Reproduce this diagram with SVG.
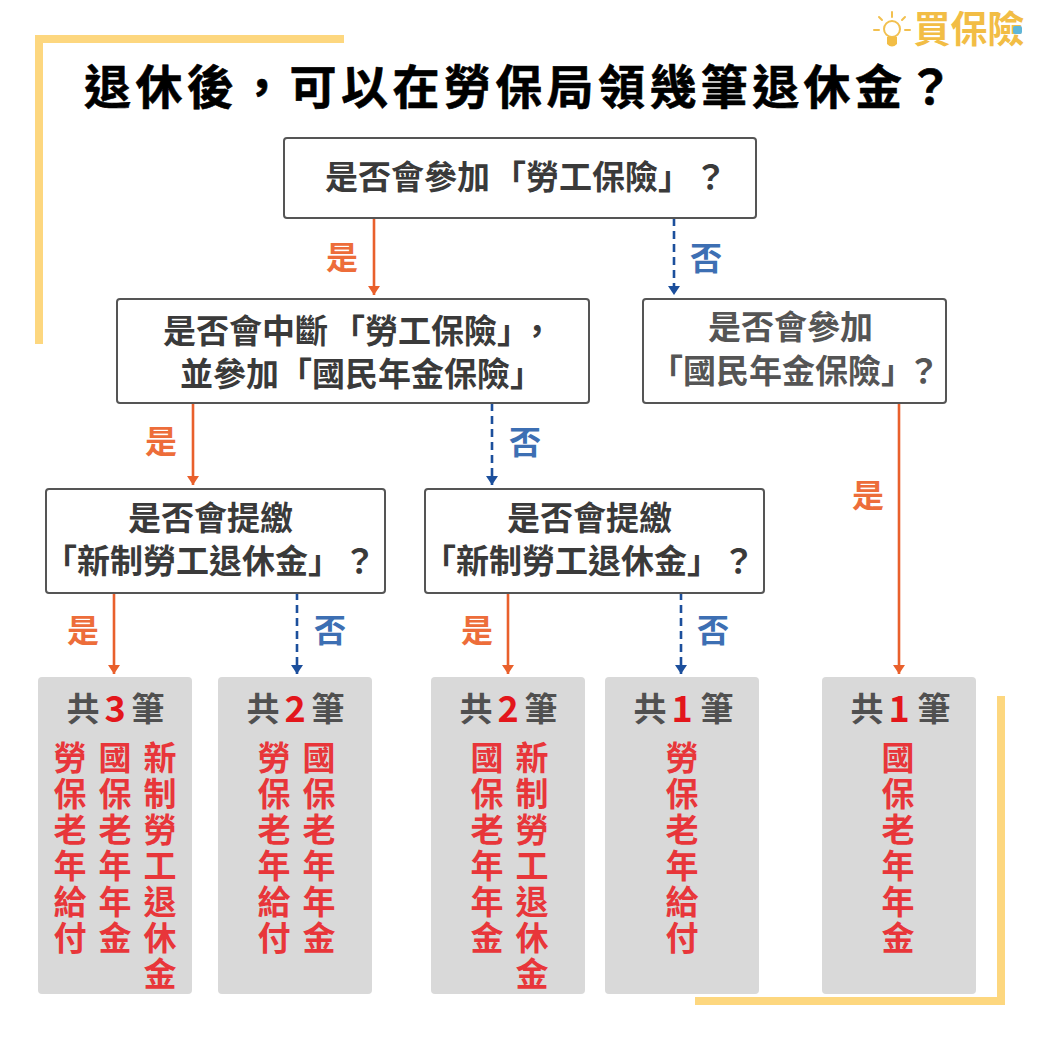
<svg xmlns="http://www.w3.org/2000/svg" width="1040" height="1040" viewBox="0 0 1040 1040">
<style>
text{font-family:"Noto Sans CJK TC","Noto Sans CJK SC",sans-serif;font-weight:700;text-anchor:middle}
.title{font-size:47px;letter-spacing:4.4px;fill:#000;stroke:#000;stroke-width:.6;stroke-linejoin:round;text-anchor:start}
.q{font-size:33px;fill:#3a3a3a;text-anchor:start}
.g{fill:#555}
.box{fill:#fff;stroke:#555;stroke-width:2}
.res{fill:#d9d9d9}
.yes{stroke:#e9602c;stroke-width:2.6;fill:none}
.no{stroke:#1c4f9c;stroke-width:2.6;fill:none;stroke-dasharray:8 5}
.ly{font-size:32px;fill:#ed6d3a}
.ln{font-size:32px;fill:#3d6fb3}
.cnt{font-size:33px;fill:#505050}
.num{font-size:36px;fill:#e3161b}
.v{font-size:33px;fill:#e8363a}
.deco{fill:#fdd77f}
.logo{fill:#f2bd45}
.lg{stroke:#f2c04f;stroke-width:2;fill:none;stroke-linecap:round}
</style>
<defs>
<marker id="ay" markerUnits="userSpaceOnUse" markerWidth="12" markerHeight="12" refX="9" refY="6" orient="auto"><path d="M0 0L9 6L0 12Z" fill="#e9602c"/></marker>
<marker id="an" markerUnits="userSpaceOnUse" markerWidth="12" markerHeight="12" refX="9" refY="6" orient="auto"><path d="M0 0L9 6L0 12Z" fill="#1c4f9c"/></marker>
</defs>
<g id="decor">
<path class="deco" d="M35 35H344V43H43V344H35Z"/>
<path class="deco" d="M997 696H1005V1005H695V997H997Z"/>
</g>
<g id="logo">
<path class="lg" d="M892 12V17M879 17L882 20M905 17L902 20M874 30H879M905 30H910"/>
<circle class="lg" cx="892" cy="29" r="8"/>
<path class="logo" d="M887 37H897V44Q892 49 887 44Z"/>
<text x="969" y="43" class="logo" style="font-size:37px;font-weight:700">買保險</text>
<rect x="1013" y="26" width="9" height="8" rx="2" fill="#5fb6d9"/>
</g>
<text id="title" x="84" y="104" class="title">退休後，可以在勞保局領幾筆退休金？</text>
<g id="connectors">
<path class="yes" d="M374 218V295" marker-end="url(#ay)"/>
<path class="no" d="M674 218V295" marker-end="url(#an)"/>
<path class="yes" d="M193 403V485" marker-end="url(#ay)"/>
<path class="no" d="M492 403V485" marker-end="url(#an)"/>
<path class="yes" d="M899 403V674" marker-end="url(#ay)"/>
<path class="yes" d="M114 592V674" marker-end="url(#ay)"/>
<path class="no" d="M297 592V674" marker-end="url(#an)"/>
<path class="yes" d="M508 592V674" marker-end="url(#ay)"/>
<path class="no" d="M681 592V674" marker-end="url(#an)"/>
<text x="342" y="269" class="ly">是</text>
<text x="706" y="270" class="ln">否</text>
<text x="161" y="453" class="ly">是</text>
<text x="525" y="454" class="ln">否</text>
<text x="868" y="507" class="ly">是</text>
<text x="83" y="642" class="ly">是</text>
<text x="330" y="642" class="ln">否</text>
<text x="477" y="642" class="ly">是</text>
<text x="713" y="642" class="ln">否</text>
</g>
<g id="q1"><rect class="box" x="284" y="138" width="472" height="80" rx="3"/><text x="325" y="189" class="q">是否會參加<tspan dx="3">「勞工保險」</tspan><tspan dx="3">？</tspan></text></g>
<g id="q2"><rect class="box" x="117" y="299" width="472" height="104" rx="3"/><text x="163" y="343" class="q">是否會中斷<tspan dx="4">「勞工保險」</tspan><tspan dx="7">，</tspan></text><text x="180" y="386" class="q">並參加「國民年金保險」</text></g>
<g id="q3"><rect class="box" x="643" y="299" width="303" height="104" rx="3"/><text x="708" y="339" class="q g">是否會參加</text><text x="650" y="383" class="q g">「國民年金保險」<tspan dx="-7">？</tspan></text></g>
<g id="q4"><rect class="box" x="46" y="489" width="339" height="104" rx="3"/><text x="128" y="530" class="q">是否會提繳</text><text x="44" y="573" class="q">「新制勞工退休金」<tspan dx="2">？</tspan></text></g>
<g id="q5"><rect class="box" x="425" y="489" width="339" height="104" rx="3"/><text x="507" y="530" class="q">是否會提繳</text><text x="423" y="573" class="q">「新制勞工退休金」<tspan dx="2">？</tspan></text></g>
<g id="r1"><rect class="res" x="38" y="677" width="154" height="317" rx="4"/>
<text y="721" x="83" class="cnt">共</text><text y="722" x="115" class="num">3</text><text y="721" x="148" class="cnt">筆</text>
<text class="v"><tspan x="70" y="770">勞</tspan><tspan x="70" y="806">保</tspan><tspan x="70" y="842">老</tspan><tspan x="70" y="878">年</tspan><tspan x="70" y="914">給</tspan><tspan x="70" y="950">付</tspan></text>
<text class="v"><tspan x="115" y="770">國</tspan><tspan x="115" y="806">保</tspan><tspan x="115" y="842">老</tspan><tspan x="115" y="878">年</tspan><tspan x="115" y="914">年</tspan><tspan x="115" y="950">金</tspan></text>
<text class="v"><tspan x="160" y="770">新</tspan><tspan x="160" y="806">制</tspan><tspan x="160" y="842">勞</tspan><tspan x="160" y="878">工</tspan><tspan x="160" y="914">退</tspan><tspan x="160" y="950">休</tspan><tspan x="160" y="986">金</tspan></text></g>
<g id="r2"><rect class="res" x="218" y="677" width="154" height="317" rx="4"/>
<text y="721" x="263" class="cnt">共</text><text y="722" x="295" class="num">2</text><text y="721" x="328" class="cnt">筆</text>
<text class="v"><tspan x="274" y="770">勞</tspan><tspan x="274" y="806">保</tspan><tspan x="274" y="842">老</tspan><tspan x="274" y="878">年</tspan><tspan x="274" y="914">給</tspan><tspan x="274" y="950">付</tspan></text>
<text class="v"><tspan x="319" y="770">國</tspan><tspan x="319" y="806">保</tspan><tspan x="319" y="842">老</tspan><tspan x="319" y="878">年</tspan><tspan x="319" y="914">年</tspan><tspan x="319" y="950">金</tspan></text></g>
<g id="r3"><rect class="res" x="431" y="677" width="154" height="317" rx="4"/>
<text y="721" x="476" class="cnt">共</text><text y="722" x="508" class="num">2</text><text y="721" x="541" class="cnt">筆</text>
<text class="v"><tspan x="487" y="770">國</tspan><tspan x="487" y="806">保</tspan><tspan x="487" y="842">老</tspan><tspan x="487" y="878">年</tspan><tspan x="487" y="914">年</tspan><tspan x="487" y="950">金</tspan></text>
<text class="v"><tspan x="532" y="770">新</tspan><tspan x="532" y="806">制</tspan><tspan x="532" y="842">勞</tspan><tspan x="532" y="878">工</tspan><tspan x="532" y="914">退</tspan><tspan x="532" y="950">休</tspan><tspan x="532" y="986">金</tspan></text></g>
<g id="r4"><rect class="res" x="605" y="677" width="154" height="317" rx="4"/>
<text y="721" x="650" class="cnt">共</text><text y="722" x="682" class="num">1</text><text y="721" x="717" class="cnt">筆</text>
<text class="v"><tspan x="682" y="770">勞</tspan><tspan x="682" y="806">保</tspan><tspan x="682" y="842">老</tspan><tspan x="682" y="878">年</tspan><tspan x="682" y="914">給</tspan><tspan x="682" y="950">付</tspan></text></g>
<g id="r5"><rect class="res" x="822" y="677" width="154" height="317" rx="4"/>
<text y="721" x="867" class="cnt">共</text><text y="722" x="899" class="num">1</text><text y="721" x="934" class="cnt">筆</text>
<text class="v"><tspan x="898" y="770">國</tspan><tspan x="898" y="806">保</tspan><tspan x="898" y="842">老</tspan><tspan x="898" y="878">年</tspan><tspan x="898" y="914">年</tspan><tspan x="898" y="950">金</tspan></text></g>
</svg>
